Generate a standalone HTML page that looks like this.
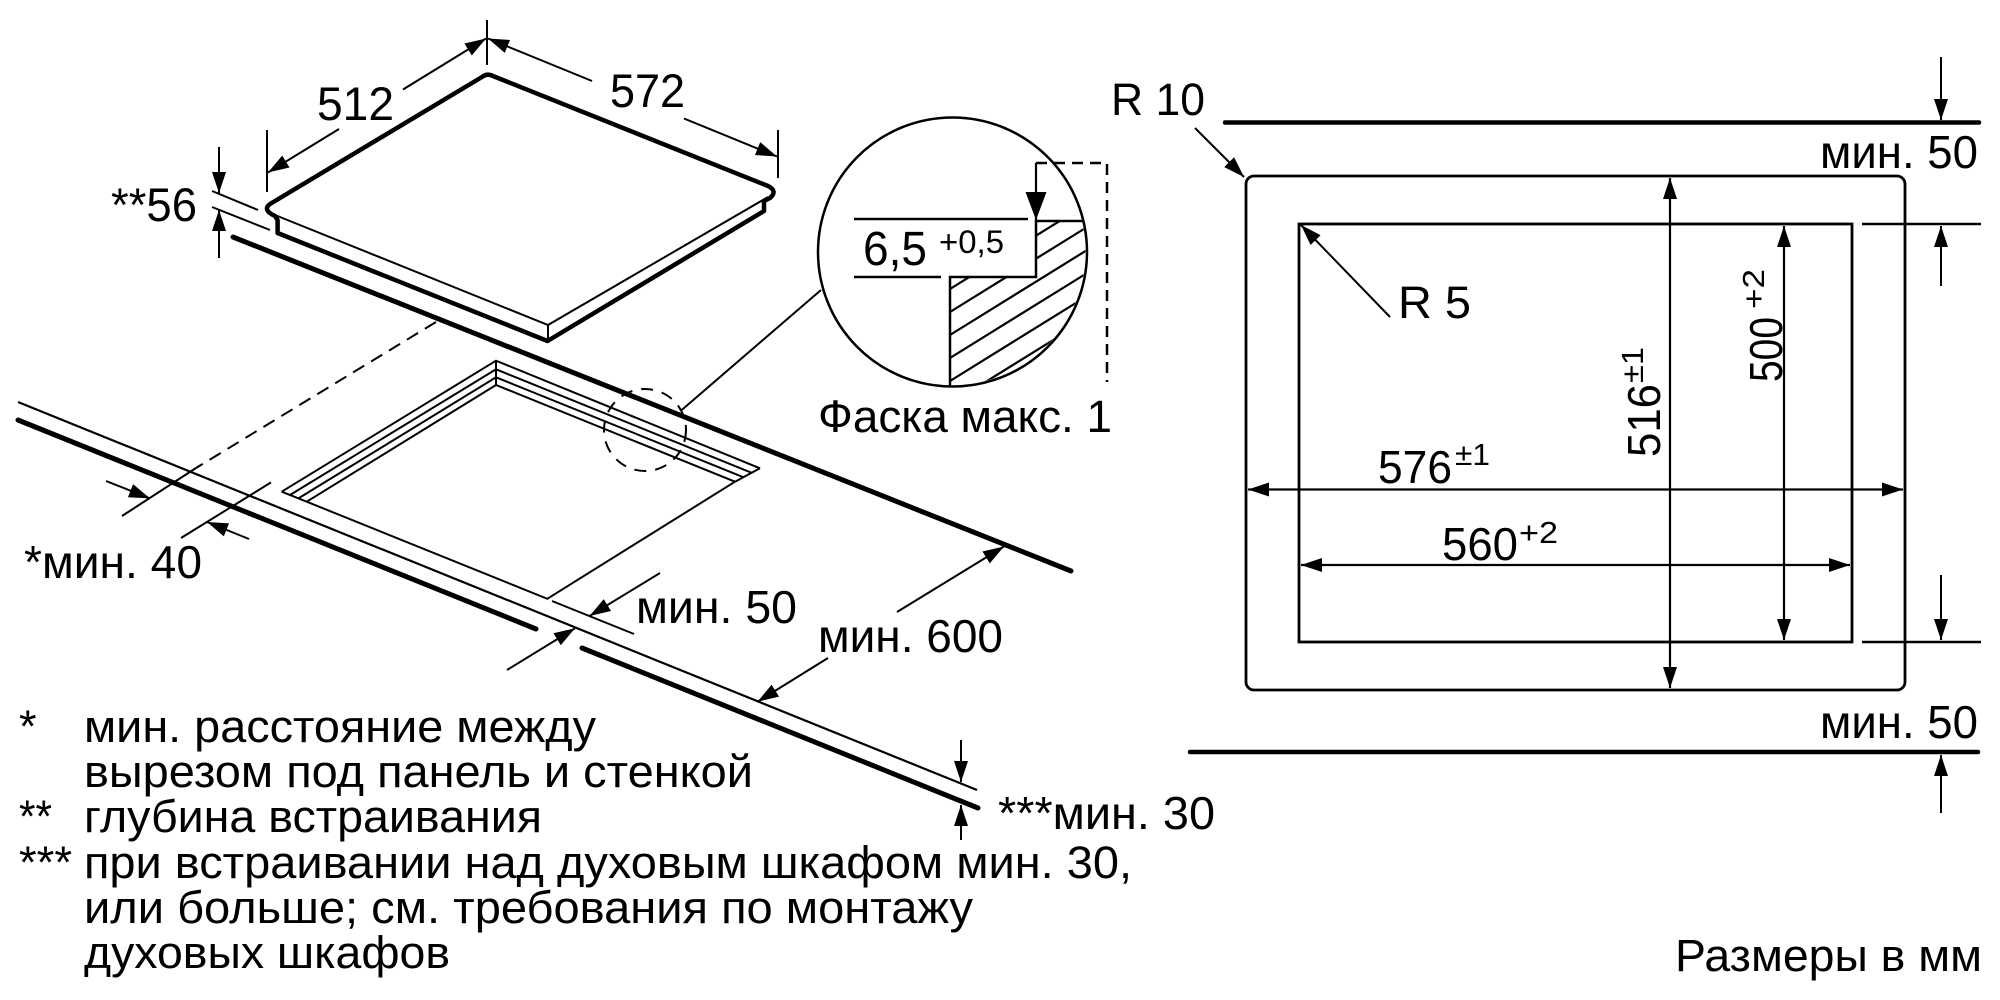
<!DOCTYPE html>
<html><head><meta charset="utf-8"><style>
html,body{margin:0;padding:0;background:#fff;}
svg{display:block;}
text{font-family:"Liberation Sans",Arial,sans-serif;fill:#000;}
</style></head><body>
<svg width="2000" height="1000" viewBox="0 0 2000 1000" xmlns="http://www.w3.org/2000/svg">
<defs>
<marker id="ae" markerUnits="userSpaceOnUse" markerWidth="21" markerHeight="14" refX="21" refY="7" orient="auto"><path d="M0,0 L21,7 L0,14 z" fill="#000"/></marker>
<marker id="as" markerUnits="userSpaceOnUse" markerWidth="21" markerHeight="14" refX="21" refY="7" orient="auto-start-reverse"><path d="M0,0 L21,7 L0,14 z" fill="#000"/></marker>
<marker id="ab" markerUnits="userSpaceOnUse" markerWidth="28" markerHeight="21" refX="28" refY="10.5" orient="auto"><path d="M0,0 L28,10.5 L0,21 z" fill="#000"/></marker>
<clipPath id="hc"><circle cx="952.5" cy="252" r="133"/></clipPath>
<clipPath id="hp"><polygon points="1036,221 1100,221 1100,400 950,400 950,277 1036,277"/></clipPath>
</defs>
<rect width="2000" height="1000" fill="#fff"/>

<g fill="none" stroke="#000" stroke-width="2">
<!-- HOB -->
<path d="M275,216 Q262,210 270,204 L482,77 Q487,73 493,76 L768,186 Q778,191 770,198 L764,201 L764,211 L547.5,341 L277.6,233 L277.6,220 Z" stroke-width="4.5" stroke-linejoin="round"/>
<polyline points="270,213 548,325 768,197"/>
<line x1="548" y1="325" x2="548" y2="341"/>

<!-- 512 / 572 dims -->
<line x1="267" y1="130" x2="267" y2="192"/>
<line x1="487" y1="20" x2="487" y2="65"/>
<line x1="778" y1="130" x2="778" y2="178"/>
<line x1="339" y1="129" x2="268" y2="172.5" marker-end="url(#ae)"/>
<line x1="403" y1="89.5" x2="486" y2="38.5" marker-end="url(#ae)"/>
<line x1="592" y1="81" x2="488" y2="38.5" marker-end="url(#ae)"/>
<line x1="684" y1="118.5" x2="777" y2="156.5" marker-end="url(#ae)"/>

<!-- 56 dim -->
<line x1="212" y1="191" x2="258" y2="210"/>
<line x1="212" y1="207" x2="270" y2="230"/>
<line x1="219" y1="147" x2="219" y2="193" marker-end="url(#ae)"/>
<line x1="219" y1="258" x2="219" y2="210" marker-end="url(#ae)"/>

<!-- countertop back line -->
<line x1="233" y1="237" x2="1071" y2="571" stroke-width="5" stroke-linecap="round"/>

<!-- dashed / ext lines min 40 -->
<line x1="436" y1="322" x2="196" y2="468" stroke-dasharray="13 8"/>
<line x1="196" y1="468" x2="122" y2="516"/>
<line x1="181" y1="538" x2="271" y2="482.4"/>
<line x1="106" y1="481" x2="150" y2="498.4" marker-end="url(#ae)"/>
<line x1="249" y1="539" x2="207" y2="522" marker-end="url(#ae)"/>

<!-- wall lines -->
<line x1="18" y1="402" x2="977" y2="790" stroke-width="2.2"/>
<line x1="18" y1="420" x2="536" y2="629" stroke-width="5" stroke-linecap="round"/>
<line x1="582" y1="648" x2="978" y2="808" stroke-width="5" stroke-linecap="round"/>

<!-- cutout -->
<polyline points="281.7,491.7 496,360.7 760,468.3"/>
<polyline points="290,495 496,369.3 751.7,472.8"/>
<polyline points="298.4,498.4 496,377.3 743.3,477.2"/>
<polyline points="306.7,501.7 496,385 735,481.7"/>
<line x1="496" y1="360.7" x2="496" y2="385"/>
<line x1="281.7" y1="491.7" x2="306.7" y2="501.7"/>
<line x1="760" y1="468.3" x2="735" y2="481.7"/>
<polyline points="306.7,501.7 547.3,598.8 735,481.7"/>

<!-- min 50 (cutout) -->
<line x1="552" y1="601" x2="634" y2="634"/>
<line x1="660" y1="573" x2="589.5" y2="616" marker-end="url(#ae)"/>
<line x1="507" y1="670" x2="575" y2="628.3" marker-end="url(#ae)"/>

<!-- dashed circle + leader -->
<circle cx="645" cy="430" r="41" stroke-dasharray="12 9"/>
<line x1="681.7" y1="410" x2="821" y2="290"/>

<!-- min 600 -->
<line x1="897" y1="612" x2="1004" y2="546.5" marker-end="url(#ae)"/>
<line x1="828" y1="658" x2="757.5" y2="701.7" marker-end="url(#ae)"/>

<!-- *** min 30 -->
<line x1="961" y1="740" x2="961" y2="782" marker-end="url(#ae)"/>
<line x1="961" y1="840" x2="961" y2="805" marker-end="url(#ae)"/>

<!-- DETAIL CIRCLE -->
<circle cx="952.5" cy="252" r="134.5" stroke-width="2.5"/>
<line x1="854" y1="219" x2="1028" y2="219" stroke-width="2.5"/>
<line x1="854" y1="277" x2="941" y2="277" stroke-width="2.5"/>
<path d="M1084,221 L1036,221 L1036,277 L950,277 L950,387" stroke-width="2.5"/>
<g clip-path="url(#hc)"><g clip-path="url(#hp)" stroke-width="2.2">
<line x1="940" y1="295.2" x2="1100" y2="196"/>
<line x1="940" y1="318.2" x2="1100" y2="219"/>
<line x1="940" y1="341.2" x2="1100" y2="242"/>
<line x1="940" y1="364.2" x2="1100" y2="265"/>
<line x1="940" y1="387.2" x2="1100" y2="288"/>
<line x1="940" y1="410.2" x2="1100" y2="311"/>
<line x1="940" y1="433.2" x2="1100" y2="334"/>
</g></g>
<path d="M1036,163 L1107,163 L1107,382" stroke-dasharray="11 7" stroke-width="2.5"/>
<line x1="1036" y1="163" x2="1036" y2="220" stroke-width="2.2" marker-end="url(#ab)"/>

<!-- PLAN VIEW -->
<line x1="1225" y1="122.5" x2="1979" y2="122.5" stroke-width="4.5" stroke-linecap="round"/>
<line x1="1190" y1="752" x2="1978" y2="752" stroke-width="4.5" stroke-linecap="round"/>
<rect x="1246" y="176" width="659" height="514" rx="8" ry="8" stroke-width="2.8"/>
<rect x="1299" y="224" width="553" height="418" stroke-width="2.8"/>
<line x1="1862" y1="224" x2="1981" y2="224" stroke-width="2.5"/>
<line x1="1862" y1="642" x2="1981" y2="642" stroke-width="2.5"/>
<line x1="1941" y1="57" x2="1941" y2="120" marker-end="url(#ae)"/>
<line x1="1941" y1="286" x2="1941" y2="226" marker-end="url(#ae)"/>
<line x1="1941" y1="575" x2="1941" y2="640" marker-end="url(#ae)"/>
<line x1="1941" y1="813" x2="1941" y2="755" marker-end="url(#ae)"/>
<line x1="1670" y1="178" x2="1670" y2="688" stroke-width="2.2" marker-start="url(#as)" marker-end="url(#ae)"/>
<line x1="1784" y1="226" x2="1784" y2="640" stroke-width="2.2" marker-start="url(#as)" marker-end="url(#ae)"/>
<line x1="1248" y1="489.5" x2="1903" y2="489.5" stroke-width="2.2" marker-start="url(#as)" marker-end="url(#ae)"/>
<line x1="1301" y1="565" x2="1850" y2="565" stroke-width="2.2" marker-start="url(#as)" marker-end="url(#ae)"/>
<line x1="1195" y1="128" x2="1244" y2="177" marker-end="url(#ae)"/>
<line x1="1390" y1="317" x2="1301" y2="225" marker-end="url(#ae)"/>
</g>

<!-- TEXT -->
<text x="317" y="120" font-size="47" textLength="77" lengthAdjust="spacingAndGlyphs">512</text>
<text x="610" y="107" font-size="47" textLength="75" lengthAdjust="spacingAndGlyphs">572</text>
<text x="111" y="221" font-size="47" textLength="86" lengthAdjust="spacingAndGlyphs">**56</text>
<text x="24" y="578" font-size="46" textLength="178" lengthAdjust="spacingAndGlyphs">*мин. 40</text>
<text x="636" y="623" font-size="46" textLength="161" lengthAdjust="spacingAndGlyphs">мин. 50</text>
<text x="818" y="652" font-size="46" textLength="185" lengthAdjust="spacingAndGlyphs">мин. 600</text>
<text x="998" y="829" font-size="46" textLength="217" lengthAdjust="spacingAndGlyphs">***мин. 30</text>

<text x="863" y="265" font-size="48" textLength="64" lengthAdjust="spacingAndGlyphs">6,5</text>
<text x="939" y="253" font-size="32" textLength="65" lengthAdjust="spacingAndGlyphs">+0,5</text>
<text x="818" y="432" font-size="45" textLength="294" lengthAdjust="spacingAndGlyphs">Фаска макс. 1</text>

<text x="1111" y="115" font-size="45" textLength="94" lengthAdjust="spacingAndGlyphs">R 10</text>
<text x="1820" y="168" font-size="46" textLength="158" lengthAdjust="spacingAndGlyphs">мин. 50</text>
<text x="1398" y="318" font-size="45" textLength="73" lengthAdjust="spacingAndGlyphs">R 5</text>
<text x="1378" y="483" font-size="46" textLength="74" lengthAdjust="spacingAndGlyphs">576</text>
<text x="1455" y="465" font-size="31" textLength="35" lengthAdjust="spacingAndGlyphs">±1</text>
<text x="1442" y="560" font-size="46" textLength="76" lengthAdjust="spacingAndGlyphs">560</text>
<text x="1519" y="543" font-size="31" textLength="39" lengthAdjust="spacingAndGlyphs">+2</text>
<text transform="translate(1660,457) rotate(-90)" font-size="46" textLength="73" lengthAdjust="spacingAndGlyphs">516</text>
<text transform="translate(1643,383) rotate(-90)" font-size="31" textLength="36" lengthAdjust="spacingAndGlyphs">±1</text>
<text transform="translate(1782,382) rotate(-90)" font-size="46" textLength="65" lengthAdjust="spacingAndGlyphs">500</text>
<text transform="translate(1764,309) rotate(-90)" font-size="31" textLength="40" lengthAdjust="spacingAndGlyphs">+2</text>
<text x="1820" y="738" font-size="46" textLength="158" lengthAdjust="spacingAndGlyphs">мин. 50</text>
<text x="1675" y="971" font-size="45" textLength="307" lengthAdjust="spacingAndGlyphs">Размеры в мм</text>

<text x="19" y="742" font-size="45">*</text>
<text x="19" y="832" font-size="45" textLength="33" lengthAdjust="spacingAndGlyphs">**</text>
<text x="19" y="878" font-size="45" textLength="53" lengthAdjust="spacingAndGlyphs">***</text>
<text x="84" y="742" font-size="45" textLength="512" lengthAdjust="spacingAndGlyphs">мин. расстояние между</text>
<text x="84" y="787" font-size="45" textLength="669" lengthAdjust="spacingAndGlyphs">вырезом под панель и стенкой</text>
<text x="84" y="832" font-size="45" textLength="458" lengthAdjust="spacingAndGlyphs">глубина встраивания</text>
<text x="84" y="878" font-size="45" textLength="1048" lengthAdjust="spacingAndGlyphs">при встраивании над духовым шкафом мин. 30,</text>
<text x="84" y="923" font-size="45" textLength="889" lengthAdjust="spacingAndGlyphs">или больше; см. требования по монтажу</text>
<text x="84" y="968" font-size="45" textLength="366" lengthAdjust="spacingAndGlyphs">духовых шкафов</text>
</svg>
</body></html>
